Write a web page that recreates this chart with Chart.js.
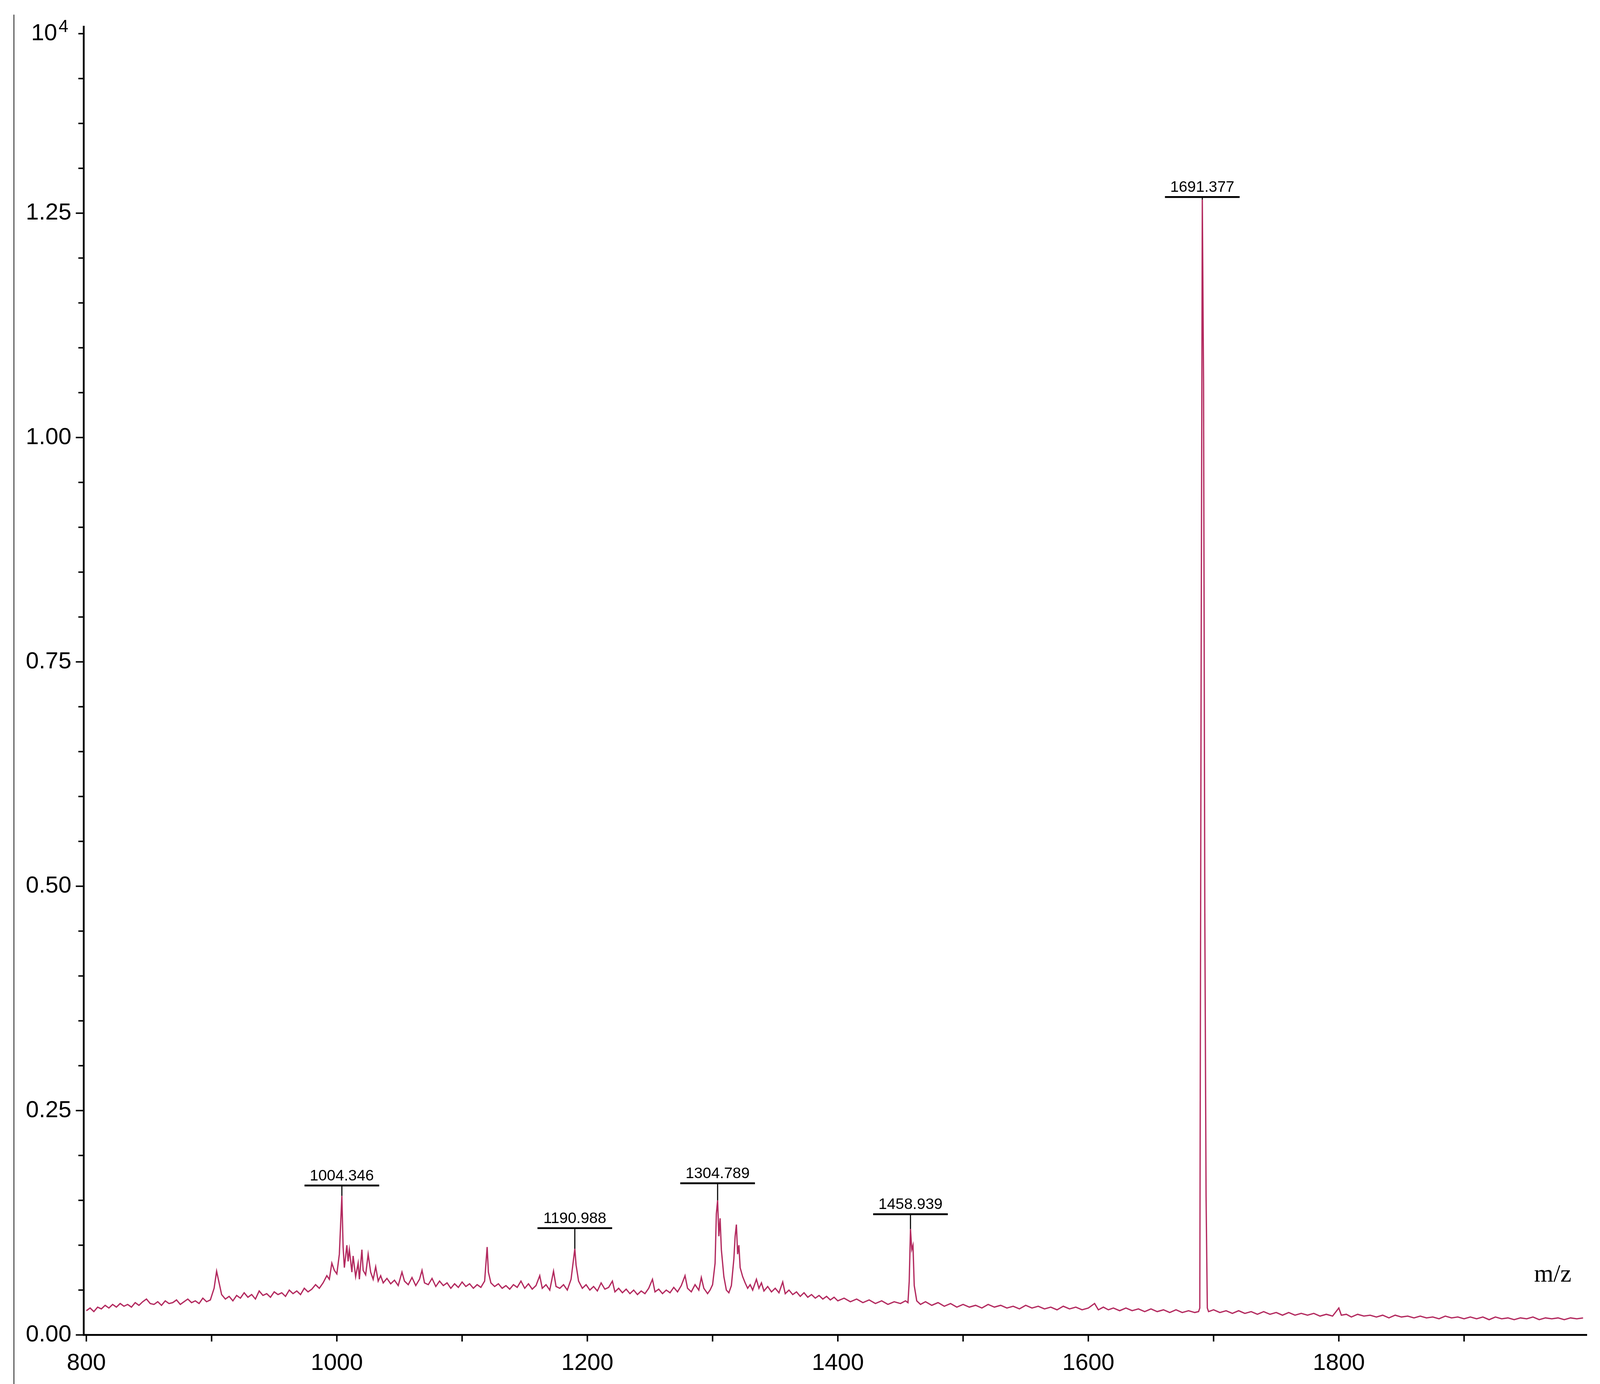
<!DOCTYPE html>
<html><head><meta charset="utf-8">
<script src="https://cdn.jsdelivr.net/npm/chart.js@4.4.1/dist/chart.umd.min.js"></script>
<style>html,body{margin:0;padding:0;background:#fff;overflow:hidden}#wrap{position:absolute;left:0;top:0;width:100vw;height:100vh}canvas{display:block}</style>
</head><body><div id="wrap"><canvas id="c"></canvas></div>
<script>
// intensity in thousandths of 10^4 counts, m/z in Da
const spectrum = [
[800,27],[803,30],[806,26],[809,31],[812,29],[815,33],[818,30],[821,34],[824,31],[827,35],[830,32],[833,34],[836,31],[839,36],[842,33],[845,37],[848,40],[851,35],[854,34],[857,37],[860,33],[863,38],[866,35],[869,36],[872,39],[875,34],[878,37],[881,40],[884,36],[887,38],[890,35],[893,41],[896,37],[899,39],[902,52],[904,71],[906,58],[908,45],[911,40],[914,43],[917,38],[920,44],[923,41],[926,47],[929,42],[932,45],[935,40],[938,49],[941,44],[944,46],[947,42],[950,48],[953,45],[956,47],[959,43],[962,50],[965,46],[968,49],[971,45],[974,52],[977,48],[980,51],[983,56],[986,52],[989,58],[992,66],[994,62],[996,80],[998,72],[1000,68],[1002,90],[1004,155],[1005,98],[1006,75],[1008,100],[1009,82],[1010,95],[1012,70],[1013,88],[1015,65],[1017,80],[1018,62],[1020,95],[1021,72],[1023,67],[1025,90],[1027,70],[1029,62],[1031,76],[1033,60],[1035,66],[1037,58],[1040,63],[1043,57],[1046,61],[1049,55],[1052,70],[1054,60],[1057,56],[1060,64],[1063,55],[1066,62],[1068,72],[1070,58],[1073,56],[1076,63],[1079,54],[1082,60],[1085,55],[1088,58],[1091,52],[1094,57],[1097,53],[1100,59],[1103,54],[1106,57],[1109,52],[1112,56],[1115,53],[1118,60],[1120,98],[1121,70],[1123,58],[1126,54],[1129,57],[1132,52],[1135,55],[1138,51],[1141,56],[1144,53],[1147,60],[1150,52],[1153,57],[1156,51],[1159,55],[1162,66],[1164,52],[1167,56],[1170,50],[1173,71],[1175,54],[1178,52],[1181,56],[1184,50],[1187,62],[1190,96],[1191,78],[1193,60],[1196,52],[1199,56],[1202,50],[1205,54],[1208,49],[1211,58],[1214,51],[1217,53],[1220,60],[1222,48],[1225,52],[1228,47],[1231,51],[1234,46],[1237,50],[1240,45],[1243,49],[1246,46],[1249,52],[1252,62],[1254,48],[1257,51],[1260,46],[1263,50],[1266,47],[1269,53],[1272,48],[1275,55],[1278,66],[1280,52],[1283,48],[1286,56],[1289,50],[1291,64],[1293,52],[1296,46],[1298,50],[1300,56],[1302,80],[1303,135],[1304,150],[1305,110],[1306,130],[1307,95],[1309,65],[1311,50],[1313,47],[1315,55],[1317,85],[1318,110],[1319,123],[1320,90],[1321,100],[1322,75],[1324,65],[1326,58],[1328,52],[1330,56],[1332,50],[1335,62],[1337,52],[1339,58],[1341,49],[1344,54],[1347,48],[1350,52],[1353,47],[1356,59],[1358,46],[1361,50],[1364,45],[1367,48],[1370,43],[1373,47],[1376,42],[1379,45],[1382,41],[1385,44],[1388,40],[1391,43],[1394,39],[1397,42],[1400,38],
[1405,41],[1410,37],[1415,40],[1420,36],[1425,39],[1430,35],[1435,38],[1440,34],[1445,37],[1450,35],[1454,38],[1456,36],[1457,60],[1458,118],[1459,95],[1460,100],[1461,55],[1463,38],[1466,34],[1470,37],[1475,33],[1480,36],[1485,32],[1490,35],[1495,31],[1500,34],[1505,31],[1510,33],[1515,30],[1520,34],[1525,31],[1530,33],[1535,30],[1540,32],[1545,29],[1550,33],[1555,30],[1560,32],[1565,29],[1570,31],[1575,28],[1580,32],[1585,29],[1590,31],[1595,28],[1600,30],[1605,35],[1608,28],[1612,31],[1616,28],[1620,30],[1625,27],[1630,30],[1635,27],[1640,29],[1645,26],[1650,29],[1655,26],[1660,28],[1665,25],[1670,28],[1675,25],[1680,27],[1685,25],[1688,26],[1689,30],[1690,700],[1691,1265],[1692,1060],[1693,470],[1694,155],[1695,30],[1696,26],[1700,28],[1705,25],[1710,27],[1715,24],[1720,27],[1725,24],[1730,26],[1735,23],[1740,26],[1745,23],[1750,25],[1755,22],[1760,25],[1765,22],[1770,24],[1775,22],[1780,24],[1785,21],[1790,23],[1795,21],[1800,30],[1802,22],[1806,23],[1810,20],[1815,23],[1820,21],[1825,22],[1830,20],[1835,22],[1840,19],[1845,22],[1850,20],[1855,21],[1860,19],[1865,21],[1870,19],[1875,20],[1880,18],[1885,21],[1890,19],[1895,20],[1900,18],[1905,20],[1910,18],[1915,20],[1920,17],[1925,20],[1930,18],[1935,19],[1940,17],[1945,19],[1950,18],[1955,20],[1960,17],[1965,19],[1970,18],[1975,19],[1980,17],[1985,19],[1990,18],[1995,19]
];
const peakLabels = ["1004.346","1190.988","1304.789","1458.939","1691.377"];
const peakMz = [1004,1190,1304,1458,1691];
const peakTop = [0.155,0.096,0.150,0.118,1.265];
const peakBarY = [0.1665,0.119,0.169,0.1345,1.268];
const xTickValues = [800,900,1000,1100,1200,1300,1400,1500,1600,1700,1800,1900];
const xLabelValues = [800,1000,1200,1400,1600,1800];
const yTickValues = [0,0.05,0.1,0.15,0.2,0.25,0.3,0.35,0.4,0.45,0.5,0.55,0.6,0.65,0.7,0.75,0.8,0.85,0.9,0.95,1.0,1.05,1.1,1.15,1.2,1.25,1.3,1.35,1.4,1.45];
const yLabelValues = [0,0.25,0.5,0.75,1.0,1.25];

const COLOR = '#B32A5F';
const K = window.innerWidth / 4370;   // design units -> CSS px
const isIn = (v, arr) => arr.some(a => Math.abs(a - v) < 1e-6);
const f = (n, fam) => (n * K) + 'px ' + fam;
const SANS = '"Liberation Sans", Arial, sans-serif';

const deco = {
  id: 'deco',
  afterDraw(ch) {
    const ctx = ch.ctx, xs = ch.scales.x, ys = ch.scales.y, a = ch.chartArea;
    ctx.save();
    ctx.strokeStyle = '#000'; ctx.lineWidth = 4 * K;
    yTickValues.forEach(v => {
      const py = ys.getPixelForValue(v), len = (isIn(v, yLabelValues) ? 22 : 15) * K;
      ctx.beginPath(); ctx.moveTo(a.left - len, py); ctx.lineTo(a.left, py); ctx.stroke();
    });
    xTickValues.forEach(v => {
      const px = xs.getPixelForValue(v);
      ctx.beginPath(); ctx.moveTo(px, a.bottom); ctx.lineTo(px, a.bottom + 18 * K); ctx.stroke();
    });
    ctx.lineWidth = 2 * K;
    ctx.beginPath(); ctx.moveTo(38 * K, 40 * K); ctx.lineTo(38 * K, ch.height); ctx.stroke();
    ctx.fillStyle = '#000'; ctx.textBaseline = 'alphabetic'; ctx.textAlign = 'left';
    ctx.font = f(64, SANS);
    ctx.fillText('10', 85 * K, 110 * K);
    ctx.font = f(48, SANS);
    ctx.fillText('4', 160 * K, 88 * K);
    ctx.font = f(68, '"Liberation Serif", "Times New Roman", serif');
    ctx.fillText('m/z', 4190 * K, 3500 * K);
    ctx.font = f(42, '"Liberation Sans Narrow", "Liberation Sans", sans-serif');
    ctx.textAlign = 'center';
    peakLabels.forEach((t, i) => {
      const px = xs.getPixelForValue(peakMz[i]);
      const by = ys.getPixelForValue(peakBarY[i]);
      const ty = ys.getPixelForValue(peakTop[i]);
      ctx.lineWidth = 5 * K;
      ctx.beginPath(); ctx.moveTo(px - 102 * K, by); ctx.lineTo(px + 102 * K, by); ctx.stroke();
      if (ty > by + 6 * K) {
        ctx.lineWidth = 3 * K;
        ctx.beginPath(); ctx.moveTo(px, by); ctx.lineTo(px, ty); ctx.stroke();
      }
      ctx.fillText(t, px, by - 14 * K);
    });
    ctx.restore();
  }
};

new Chart(document.getElementById('c'), {
  type: 'line',
  data: { datasets: [{
    data: spectrum.map(p => ({ x: p[0], y: p[1] / 1000 })),
    borderColor: COLOR, borderWidth: 3.5 * K, pointRadius: 0, tension: 0, fill: false
  }]},
  options: {
    responsive: true, maintainAspectRatio: false, animation: false,
    layout: { padding: { top: 40 * K, right: 36 * K, left: 0, bottom: 0 } },
    plugins: { legend: { display: false }, tooltip: { enabled: false } },
    scales: {
      x: {
        type: 'linear', min: 798, max: 1998,
        afterBuildTicks: s => { s.ticks = xTickValues.map(v => ({ value: v })); },
        afterFit: s => { s.height = 134 * K; },
        grid: { display: false, drawTicks: false },
        border: { display: true, color: '#000', width: 5 * K },
        ticks: { color: '#000', font: { family: SANS, size: 64 * K }, padding: 40 * K, maxRotation: 0, autoSkip: false,
          callback: v => isIn(v, xLabelValues) ? String(v) : '' }
      },
      y: {
        type: 'linear', min: 0, max: 1.458,
        afterBuildTicks: s => { s.ticks = yTickValues.map(v => ({ value: v })); },
        afterFit: s => { s.width = 229 * K; },
        grid: { display: false, drawTicks: false },
        border: { display: true, color: '#000', width: 5 * K },
        ticks: { color: '#000', font: { family: SANS, size: 64 * K }, padding: 34 * K, autoSkip: false,
          callback: v => isIn(v, yLabelValues) ? v.toFixed(2) : '' }
      }
    }
  },
  plugins: [deco]
});
</script></body></html>
